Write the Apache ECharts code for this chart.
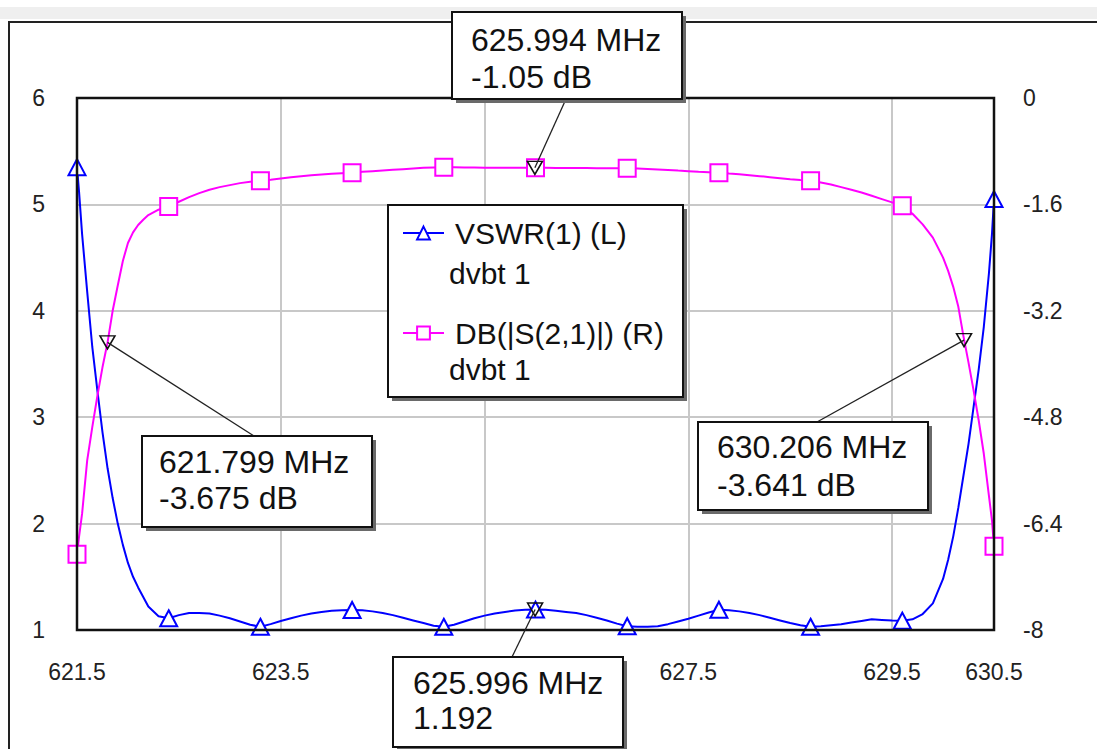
<!DOCTYPE html>
<html>
<head>
<meta charset="utf-8">
<script src="https://cdn.jsdelivr.net/npm/echarts@6/dist/echarts.min.js"></script>
<style>
html, body { margin: 0; background: #fff; }
#chart { width: 1097px; height: 749px; }
</style>
</head>
<body>
<div id="chart"></div>
<script>
// frequency points (MHz)
const freq = [
  621.5, 621.52, 621.55, 621.6, 621.65, 621.7, 621.75, 621.8, 621.85, 621.9, 621.95, 622.0, 622.05, 622.1, 622.15, 622.2, 622.3, 622.4,
  622.5, 622.6, 622.7, 622.8, 622.9,
  623.0, 623.1, 623.2, 623.3, 623.4, 623.5, 623.6, 623.7, 623.8, 623.9,
  624.0, 624.1, 624.2, 624.3, 624.4, 624.5, 624.6, 624.7, 624.8, 624.9,
  625.0, 625.1, 625.2, 625.3, 625.4, 625.5, 625.6, 625.7, 625.8, 625.9,
  626.0, 626.1, 626.2, 626.3, 626.4, 626.5, 626.6, 626.7, 626.8, 626.9,
  627.0, 627.1, 627.2, 627.3, 627.4, 627.5, 627.6, 627.7, 627.8, 627.9,
  628.0, 628.1, 628.2, 628.3, 628.4, 628.5, 628.6, 628.7, 628.8, 628.9,
  629.0, 629.1, 629.2, 629.3, 629.4, 629.5, 629.6, 629.7, 629.8, 629.9,
  630.0, 630.05, 630.1, 630.15, 630.2, 630.25, 630.3, 630.35, 630.4, 630.45, 630.48, 630.5
]
// VSWR(1), left axis
const vswr = [
  5.35, 5.12, 4.72, 4.18, 3.66, 3.25, 2.86, 2.52, 2.24, 2.00, 1.80, 1.63, 1.50, 1.40, 1.31, 1.22, 1.13, 1.11,
  1.14, 1.16, 1.16, 1.155, 1.135,
  1.11, 1.08, 1.05, 1.03, 1.055, 1.085, 1.11, 1.135, 1.155, 1.17,
  1.18, 1.185, 1.188, 1.185, 1.175, 1.16, 1.14, 1.115, 1.09, 1.065,
  1.04, 1.03, 1.05, 1.08, 1.11, 1.135, 1.155, 1.17, 1.183, 1.19,
  1.192, 1.19, 1.18, 1.17, 1.16, 1.14, 1.115, 1.09, 1.06, 1.035,
  1.03, 1.03, 1.035, 1.055, 1.08, 1.105, 1.135, 1.165, 1.19, 1.185,
  1.175, 1.16, 1.14, 1.115, 1.09, 1.065, 1.045, 1.03, 1.035, 1.045,
  1.055, 1.07, 1.085, 1.10, 1.095, 1.09, 1.088, 1.10, 1.15, 1.25,
  1.48, 1.66, 1.88, 2.15, 2.45, 2.75, 3.10, 3.45, 3.85, 4.35, 4.72, 5.05
]
// DB(|S(2,1)|), right axis
const s21 = [
  -6.86, -6.60, -6.25, -5.45, -4.95, -4.48, -4.05, -3.675, -3.20, -2.82, -2.45, -2.18, -2.02, -1.91, -1.83, -1.76, -1.68, -1.63,
  -1.56, -1.49, -1.43, -1.38, -1.34,
  -1.31, -1.28, -1.26, -1.243, -1.23, -1.21, -1.19, -1.175, -1.16, -1.15,
  -1.14, -1.13, -1.123, -1.11, -1.10, -1.09, -1.08, -1.07, -1.06, -1.05,
  -1.045, -1.042, -1.042, -1.044, -1.046, -1.048, -1.049, -1.05, -1.05, -1.05,
  -1.05, -1.05, -1.051, -1.052, -1.053, -1.054, -1.055, -1.056, -1.057, -1.058,
  -1.062, -1.068, -1.075, -1.083, -1.092, -1.10, -1.108, -1.115, -1.123, -1.135,
  -1.145, -1.16, -1.175, -1.19, -1.205, -1.22, -1.232, -1.243, -1.27, -1.30,
  -1.34, -1.38, -1.42, -1.47, -1.52, -1.57, -1.62, -1.74, -1.90, -2.10,
  -2.40, -2.60, -2.84, -3.14, -3.58, -3.98, -4.40, -4.85, -5.35, -5.98, -6.35, -6.74
]
// points that carry a series symbol
const symbolFreqs = [621.5, 622.4, 623.3, 624.2, 625.1, 626.0, 626.9, 627.8, 628.7, 629.6, 630.5]
// grid positions, and the labels left visible (625.5 sits under a marker box)
const xTicks = [621.5, 623.5, 625.5, 627.5, 629.5, 630.5]
const xLabels = [621.5, 623.5, 627.5, 629.5, 630.5]

// markers
const dbMarkFreq = [625.994, 621.799, 630.206]
const dbMarkVal = [-1.05, -3.675, -3.641]
const vswrMarkFreq = [625.996]
const vswrMarkVal = [1.192]

const FONT = '"Liberation Sans", Arial, sans-serif'
const BLUE = '#0000ff'
const PINK = '#ff00ff'

const chart = echarts.init(document.getElementById('chart'), null, { renderer: 'svg' })

function symSize (size) {
  return function (value) {
    return symbolFreqs.some(s => Math.abs(s - value[0]) < 1e-6) ? size : 0
  }
}

const markStyle = {
  symbol: 'triangle',
  symbolRotate: 180,
  symbolSize: [15, 13],
  itemStyle: { color: 'rgba(0,0,0,0)', borderColor: '#111', borderWidth: 1.5 },
  label: { show: false }
}

chart.setOption({
  animation: false,
  grid: { left: 77, top: 98, right: 103, bottom: 119 },
  legend: {
    orient: 'vertical',
    left: 397,
    top: 213,
    itemWidth: 41,
    itemHeight: 16,
    itemGap: 70,
    selectedMode: false,
    textStyle: { fontSize: 30, lineHeight: 30, fontFamily: FONT, color: '#111', padding: [0, 0, 0, 6] },
    data: ['VSWR(1) (L)', 'DB(|S(2,1)|) (R)'],
    z: 110
  },
  xAxis: {
    type: 'value',
    min: 621.5,
    max: 630.5,
    axisLine: { show: false },
    axisTick: { show: false, customValues: xTicks },
    axisLabel: { customValues: xLabels, margin: 30, fontSize: 23, fontFamily: FONT, color: '#222' },
    splitLine: { show: true, lineStyle: { color: '#c8c8c8', width: 2 } }
  },
  yAxis: [
    {
      type: 'value', min: 1, max: 6, interval: 1,
      axisLine: { show: false },
      axisTick: { show: false },
      axisLabel: { margin: 32, fontSize: 23, fontFamily: FONT, color: '#222' },
      splitLine: { show: true, lineStyle: { color: '#c8c8c8', width: 2 } }
    },
    {
      type: 'value', min: -8, max: 0, interval: 1.6,
      axisLine: { show: false },
      axisTick: { show: false },
      axisLabel: { margin: 29, fontSize: 23, fontFamily: FONT, color: '#222' },
      splitLine: { show: false }
    }
  ],
  series: [
    {
      name: 'VSWR(1) (L)',
      type: 'line',
      yAxisIndex: 0,
      data: freq.map((f, i) => [f, vswr[i]]),
      symbol: 'emptyTriangle',
      symbolSize: symSize([17, 16]),
      showAllSymbol: true,
      lineStyle: { color: BLUE, width: 2 },
      itemStyle: { color: BLUE, borderColor: BLUE, borderWidth: 2 },
      markPoint: Object.assign({ data: vswrMarkFreq.map((f, i) => ({ coord: [f, vswrMarkVal[i]] })) }, markStyle)
    },
    {
      name: 'DB(|S(2,1)|) (R)',
      type: 'line',
      yAxisIndex: 1,
      data: freq.map((f, i) => [f, s21[i]]),
      symbol: 'emptyRect',
      symbolSize: symSize(17),
      showAllSymbol: true,
      lineStyle: { color: PINK, width: 2 },
      itemStyle: { color: PINK, borderColor: PINK, borderWidth: 2 },
      markPoint: Object.assign({ data: dbMarkFreq.map((f, i) => ({ coord: [f, dbMarkVal[i]] })) }, markStyle)
    }
  ]
})

// annotation boxes
function box (x, y, w, h, lines, tx, ty) {
  const els = [
    { type: 'rect', z: 100, shape: { x: x + 4, y: y + 4, width: w, height: h }, style: { fill: '#6a6a6a' } },
    { type: 'rect', z: 101, shape: { x: x, y: y, width: w, height: h }, style: { fill: '#fff', stroke: '#111', lineWidth: 2 } }
  ]
  lines.forEach((t, i) => {
    els.push({
      type: 'text', z: 102,
      style: { text: t, x: tx, y: ty[i], fontSize: 32, fontFamily: FONT, fill: '#111', verticalAlign: 'middle' }
    })
  })
  return els
}

function leader (from, seriesIndex, coord) {
  const p = chart.convertToPixel({ seriesIndex: seriesIndex }, coord)
  return {
    type: 'line', z: 99,
    shape: { x1: from[0], y1: from[1], x2: p[0], y2: p[1] },
    style: { stroke: '#222', lineWidth: 1.3 }
  }
}

// plot frame from the axis extents
const p0 = chart.convertToPixel({ xAxisIndex: 0, yAxisIndex: 0 }, [621.5, 6])
const p1 = chart.convertToPixel({ xAxisIndex: 0, yAxisIndex: 0 }, [630.5, 1])

const graphics = [
  // window band and outer frame
  { type: 'rect', z: -1, shape: { x: 0, y: 7, width: 1097, height: 12 }, style: { fill: '#efefef' } },
  { type: 'rect', z: -1, shape: { x: 9, y: 22, width: 1120, height: 760 }, style: { fill: 'none', stroke: '#222', lineWidth: 2 } },
  { type: 'rect', z: 10, silent: true, shape: { x: p0[0], y: p0[1], width: p1[0] - p0[0], height: p1[1] - p0[1] }, style: { fill: 'none', stroke: '#111', lineWidth: 2.5 } },

  leader([566, 99], 1, [dbMarkFreq[0], dbMarkVal[0]]),
  leader([254, 436], 1, [dbMarkFreq[1], dbMarkVal[1]]),
  leader([817, 422], 1, [dbMarkFreq[2], dbMarkVal[2]]),
  leader([512, 657], 0, [vswrMarkFreq[0], vswrMarkVal[0]]),

  ...box(452, 12, 230, 87, [dbMarkFreq[0].toFixed(3) + ' MHz', dbMarkVal[0] + ' dB'], 471, [40, 77]),
  ...box(142, 436, 230, 91, [dbMarkFreq[1].toFixed(3) + ' MHz', dbMarkVal[1] + ' dB'], 159, [462, 498]),
  ...box(698, 422, 230, 88, [dbMarkFreq[2].toFixed(3) + ' MHz', dbMarkVal[2] + ' dB'], 717, [447, 485]),
  ...box(393, 657, 230, 90, [vswrMarkFreq[0].toFixed(3) + ' MHz', String(vswrMarkVal[0])], 413, [683, 718]),

  // legend frame and second lines
  { type: 'rect', z: 100, shape: { x: 392, y: 209, width: 295, height: 192 }, style: { fill: '#6a6a6a' } },
  { type: 'rect', z: 101, shape: { x: 388, y: 205, width: 295, height: 192 }, style: { fill: '#fff', stroke: '#111', lineWidth: 2 } },
  { type: 'text', z: 102, style: { text: 'dvbt 1', x: 449, y: 273, fontSize: 30, fontFamily: FONT, fill: '#111', verticalAlign: 'middle' } },
  { type: 'text', z: 102, style: { text: 'dvbt 1', x: 449, y: 369, fontSize: 30, fontFamily: FONT, fill: '#111', verticalAlign: 'middle' } }
]

chart.setOption({ graphic: graphics })
</script>
</body>
</html>
